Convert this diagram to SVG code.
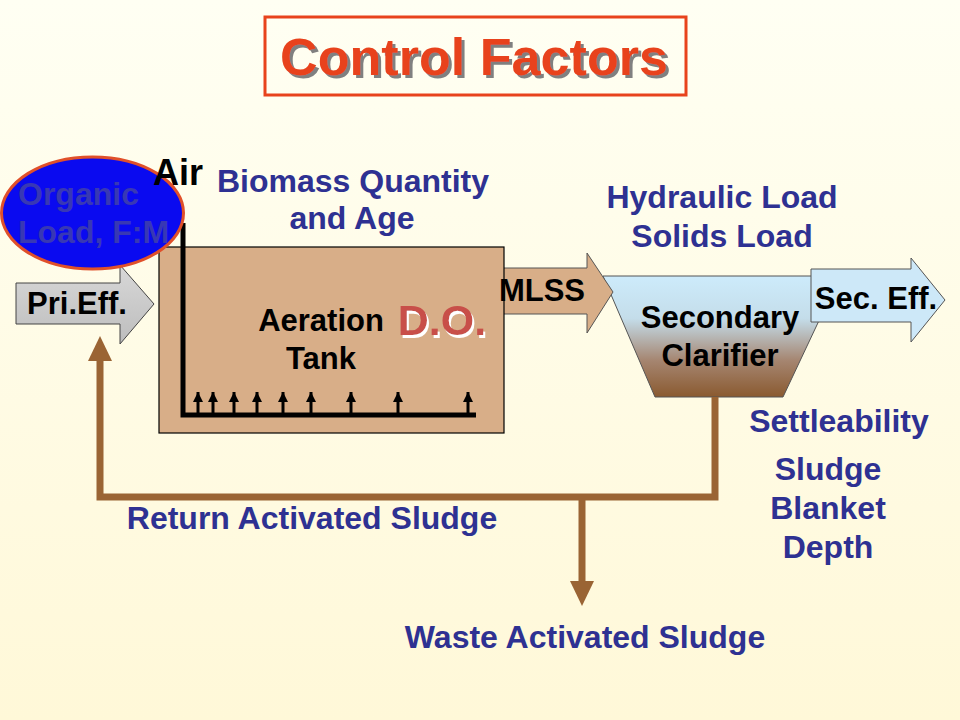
<svg xmlns="http://www.w3.org/2000/svg" width="960" height="720" viewBox="0 0 960 720">
<defs>
<linearGradient id="bg" x1="0" y1="0" x2="0" y2="1">
<stop offset="0" stop-color="#FFFFF3"/>
<stop offset="1" stop-color="#FFF8D8"/>
</linearGradient>
<linearGradient id="clar" x1="0" y1="0" x2="0" y2="1">
<stop offset="0" stop-color="#CDEBFB"/>
<stop offset="0.35" stop-color="#C4DDEA"/>
<stop offset="0.7" stop-color="#A58570"/>
<stop offset="1" stop-color="#8A5A30"/>
</linearGradient>
<linearGradient id="gray" x1="0" y1="0" x2="0" y2="1">
<stop offset="0" stop-color="#D8D8D8"/>
<stop offset="1" stop-color="#BDBDBD"/>
</linearGradient>
<filter id="shGray" x="-5%" y="-20%" width="115%" height="150%">
<feDropShadow dx="3" dy="3" stdDeviation="0.6" flood-color="#808080" flood-opacity="1"/>
</filter>
<filter id="shWhite" x="-10%" y="-20%" width="130%" height="150%">
<feDropShadow dx="2" dy="3" stdDeviation="0" flood-color="#FFFFFF" flood-opacity="1"/>
</filter>
<marker id="up" viewBox="0 0 10 10" refX="10" refY="5" markerWidth="11" markerHeight="10" markerUnits="userSpaceOnUse" orient="auto">
<path d="M0,0 L10,5 L0,10 Z" fill="#000"/>
</marker>
<style>
text{font-family:"Liberation Sans",Arial,sans-serif;font-weight:bold}
.blue{fill:#2E3192;font-size:32px}
.blk{fill:#000;font-size:31px}
.pipe{fill:none;stroke:#000;stroke-width:5}
.tick{stroke:#000;stroke-width:3;fill:none}
.sl{fill:none;stroke:#9A6434;stroke-width:7}
.slh{fill:#9A6434}
</style>
</defs>
<rect x="0" y="0" width="960" height="720" fill="url(#bg)"/>

<g id="title">
<rect x="265" y="17" width="421" height="78" fill="none" stroke="#E8431C" stroke-width="3"/>
<text x="474" y="75" text-anchor="middle" font-size="52" fill="#E8431C" textLength="388" lengthAdjust="spacingAndGlyphs" filter="url(#shGray)">Control Factors</text>
</g>

<g id="clarifier">
<polygon points="603,276 840,276 783,397 655,397" fill="url(#clar)" stroke="#555" stroke-width="1"/>
<text class="blk" x="720" y="328" text-anchor="middle">Secondary</text>
<text class="blk" x="720" y="366" text-anchor="middle">Clarifier</text>
</g>

<g id="mlss">
<polygon points="500,268 587,268 587,253 613,292 587,333 587,314 500,314" fill="#D8AE88" stroke="#555" stroke-width="1"/>
</g>

<g id="aeration-tank">
<rect x="159" y="247" width="345" height="186" fill="#D8AE88" stroke="#000" stroke-width="1.2"/>
<polyline class="pipe" points="183,223 183,415 476,415"/>
<g class="tick" marker-end="url(#up)">
<line x1="198" y1="415" x2="198" y2="392"/>
<line x1="213" y1="415" x2="213" y2="392"/>
<line x1="234" y1="415" x2="234" y2="392"/>
<line x1="257" y1="415" x2="257" y2="392"/>
<line x1="283" y1="415" x2="283" y2="392"/>
<line x1="311" y1="415" x2="311" y2="392"/>
<line x1="351" y1="415" x2="351" y2="392"/>
<line x1="398" y1="415" x2="398" y2="392"/>
<line x1="468" y1="415" x2="468" y2="392"/>
</g>
<text class="blk" x="321" y="331" text-anchor="middle">Aeration</text>
<text class="blk" x="321" y="369" text-anchor="middle">Tank</text>
<text x="442" y="335" text-anchor="middle" font-size="43" fill="#C8504A" filter="url(#shWhite)">D.O.</text>
</g>
<text id="mlss-label" class="blk" x="542" y="301" text-anchor="middle">MLSS</text>

<g id="pri-eff">
<polygon points="16,283 120,283 120,265 154,304 120,344 120,324 16,324" fill="url(#gray)" stroke="#444" stroke-width="1"/>
<text class="blk" x="77" y="314" text-anchor="middle">Pri.Eff.</text>
</g>

<g id="sec-eff">
<polygon points="811,269 911,269 911,258 945,300 911,342 911,322 811,322" fill="#CDE8F8" stroke="#555" stroke-width="1"/>
<text class="blk" x="876" y="309" text-anchor="middle">Sec. Eff.</text>
</g>

<g id="organic-load">
<ellipse cx="92.5" cy="213" rx="91" ry="56" fill="#0A0AF0" stroke="#E0502A" stroke-width="3"/>
<text x="18" y="205" font-size="32" fill="#3838B4">Organic</text>
<text x="18" y="243" font-size="32" fill="#3838B4">Load, F:M</text>
</g>

<g id="connectors">
<polyline class="sl" points="715,397 715,497 100,497 100,358"/>
<polygon class="slh" points="100,336 88,361 112,361"/>
<polyline class="sl" points="582,497 582,584"/>
<polygon class="slh" points="582,606 570,581 594,581"/>
</g>

<g id="labels">
<text x="153" y="185" font-size="36" fill="#000">Air</text>
<text class="blue" x="353" y="192" text-anchor="middle">Biomass Quantity</text>
<text class="blue" x="352" y="229" text-anchor="middle">and Age</text>
<text class="blue" x="722" y="208" text-anchor="middle">Hydraulic Load</text>
<text class="blue" x="722" y="247" text-anchor="middle">Solids Load</text>
<text class="blue" x="839" y="432" text-anchor="middle">Settleability</text>
<text class="blue" x="828" y="480" text-anchor="middle">Sludge</text>
<text class="blue" x="828" y="519" text-anchor="middle">Blanket</text>
<text class="blue" x="828" y="558" text-anchor="middle">Depth</text>
<text class="blue" x="312" y="529" text-anchor="middle">Return Activated Sludge</text>
<text class="blue" x="585" y="648" text-anchor="middle">Waste Activated Sludge</text>
</g>
</svg>
